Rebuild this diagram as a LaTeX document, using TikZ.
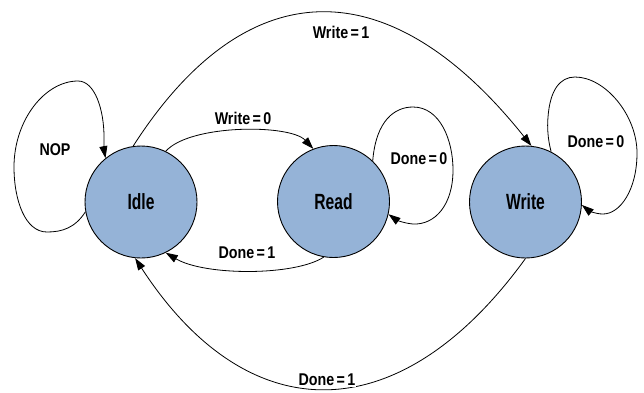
\documentclass[tikz,border=0pt]{standalone}
\usepackage{fontspec}
\setmainfont{Liberation Sans}[FakeStretch=0.84,WordSpace=0.6]
\newfontfamily\statefont{Liberation Sans}[FakeStretch=0.71]
\usetikzlibrary{arrows.meta}
\definecolor{statefill}{RGB}{149,179,215}
\begin{document}
\begin{tikzpicture}[x=1pt,y=-1pt,
  state/.style={circle,draw=black,line width=0.9pt,fill=statefill,minimum size=112pt,inner sep=0pt,
    font=\statefont\fontsize{22}{24}\selectfont\bfseries},
  trans/.style={draw=black,line width=0.8pt,-{Triangle[length=12pt,width=8pt]}},
  lbl/.style={font=\fontsize{17}{19}\selectfont\bfseries,inner sep=1pt}]
\useasboundingbox (0,0) rectangle (644,392);
\fill[white] (0,0) rectangle (644,392);

% states
\node[state] (idle)  at (141,202)   {Idle};
\node[state] (read)  at (333.5,201.5) {Read};
\node[state] (write) at (525.5,202) {Write};

% Idle self loop
\draw[trans] (idle.190) .. controls (75,228) and (62,232) .. (47,232)
  .. controls (25,232) and (14,200) .. (14,167)
  .. controls (14,120) and (45,81) .. (78,81)
  .. controls (95,81) and (104,110) .. (104,137)
  .. controls (104,145) and (104,150) .. (idle.129);
\node[lbl] (nop) at (55,150) {NOP};

% Idle -> Read
\draw[trans] (idle.64) .. controls (190,124) and (290,124) .. (read.111);
\node[lbl] (w0) at (243,118) {Write = 0};

% Read -> Idle
\draw[trans] (read.260) .. controls (295,276) and (205,276) .. (idle.296);
\node[lbl] (d1a) at (247,253) {Done = 1};

% Read self loop
\draw[trans] (read.46) .. controls (376,120) and (395,107) .. (413,107)
  .. controls (440,107) and (453,140) .. (453,170)
  .. controls (453,205) and (435,225) .. (413,224)
  .. controls (402,223) and (395,219) .. (read.347);
\node[lbl] (d0a) at (419,159) {Done = 0};

% Idle -> Write
\draw[trans] (idle.98) .. controls (247,-31.5) and (390,-31.5) .. (write.84);
\node[lbl] (w1) at (341,32) {Write = 1};

% Write self loop
\draw[trans] (write.63) .. controls (548,140) and (547,128) .. (548,117)
  .. controls (550,90) and (560,77) .. (575,77)
  .. controls (605,77) and (637,115) .. (637,153)
  .. controls (637,190) and (620,214) .. (603,214)
  .. controls (595,214) and (588,210) .. (write.357);
\node[lbl] (d0b) at (596,142) {Done = 0};

% Write -> Idle
\draw[trans] (write.270) .. controls (400,432) and (248,432) .. (idle.264);
\node[lbl,fill=white] (d1b) at (327,380) {Done = 1};
\end{tikzpicture}
\end{document}
